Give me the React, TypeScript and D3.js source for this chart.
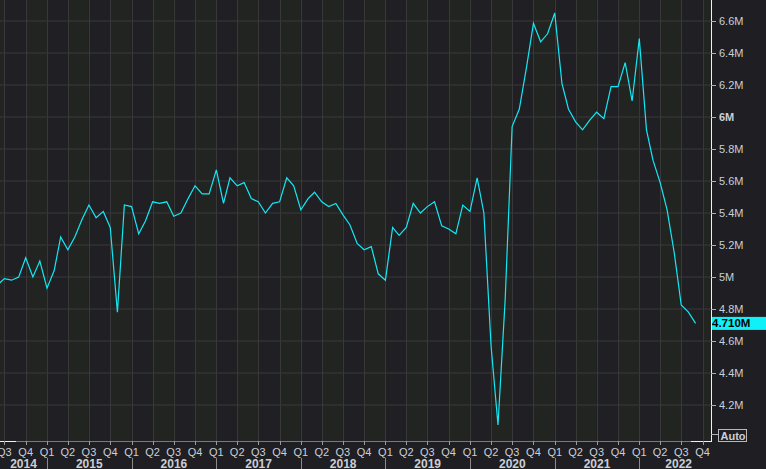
import * as d3 from "d3";

// US existing home sales, SAAR (millions), monthly from Jun 2014
const sales2014 = [4.95, 4.99, 4.98, 5.0, 5.12, 5.0, 5.1];
const sales2015 = [4.93, 5.04, 5.25, 5.17, 5.25, 5.36, 5.45, 5.37, 5.41, 5.31, 4.78, 5.45];
const sales2016 = [5.44, 5.27, 5.35, 5.47, 5.46, 5.47, 5.38, 5.4, 5.49, 5.57, 5.52, 5.52];
const sales2017 = [5.67, 5.46, 5.62, 5.57, 5.59, 5.49, 5.47, 5.4, 5.46, 5.47, 5.62, 5.57];
const sales2018 = [5.42, 5.49, 5.53, 5.47, 5.44, 5.46, 5.39, 5.325, 5.21, 5.17, 5.19, 5.02];
const sales2019 = [4.98, 5.31, 5.26, 5.31, 5.46, 5.4, 5.44, 5.47, 5.32, 5.3, 5.27, 5.45];
const sales2020 = [5.41, 5.62, 5.4, 4.57, 4.075, 4.86, 5.94, 6.05, 6.31, 6.585, 6.47, 6.52];
const sales2021 = [6.65, 6.21, 6.05, 5.97, 5.92, 5.98, 6.03, 5.99, 6.19, 6.19, 6.34, 6.1];
const sales2022 = [6.49, 5.92, 5.73, 5.59, 5.42, 5.15, 4.825, 4.78, 4.71];

const yTicks = [4.2, 4.4, 4.6, 4.8, 5, 5.2, 5.4, 5.6, 5.8, 6, 6.2, 6.4, 6.6];
const years = [2014, 2015, 2016, 2017, 2018, 2019, 2020, 2021, 2022];
const lastLabel = "4.710M";

const W = 766;
const H = 469;
const plotRight = 711;
const plotBottom = 441;

const allSales = [
  ...sales2014,
  ...sales2015,
  ...sales2016,
  ...sales2017,
  ...sales2018,
  ...sales2019,
  ...sales2020,
  ...sales2021,
  ...sales2022,
];
const series = allSales.map((v, i) => ({
  date: d3.timeMonth.offset(new Date(2014, 5, 1), i),
  value: v,
}));

const FONT = "'Liberation Sans', Arial, sans-serif";
const TEXT = "#c9cfd8";

export default function App() {
  const x = d3
    .scaleTime()
    .domain([new Date(2015, 0, 1), new Date(2022, 0, 1)])
    .range([47, 639.3]);
  const y = d3.scaleLinear().domain([4.2, 6.6]).range([405, 21]);

  const line = d3
    .line<{ date: Date; value: number }>()
    .x((d) => x(d.date))
    .y((d) => y(d.value));

  const quarters = d3.timeMonth.every(3)!.range(new Date(2014, 3, 1), new Date(2023, 0, 1));
  const qTicks = quarters.filter((q) => x(q) >= 0 && x(q) <= plotRight);
  const last = series[series.length - 1];

  return (
    <div style={{ position: "fixed", left: 0, top: 0, width: W, height: H }}>
      <svg width={W} height={H} style={{ display: "block", background: "#1f1e22" }}>
        <defs>
          <clipPath id="plot">
            <rect x={0} y={0} width={plotRight} height={plotBottom} />
          </clipPath>
        </defs>
        <g clipPath="url(#plot)">
          {quarters.map((q, i) => {
            const next = d3.timeMonth.offset(q, 3);
            const even = q.getMonth() === 3 || q.getMonth() === 9;
            return (
              <rect
                key={"b" + i}
                x={x(q)}
                y={0}
                width={x(next) - x(q)}
                height={plotBottom}
                fill={even ? "#222421" : "#201f23"}
              />
            );
          })}
          {yTicks.map((t) => (
            <line key={"h" + t} x1={0} x2={plotRight} y1={y(t)} y2={y(t)} stroke="#38383a" strokeWidth={1} />
          ))}
          {qTicks.map((q, i) => (
            <line
              key={"v" + i}
              x1={Math.round(x(q)) + 0.5}
              x2={Math.round(x(q)) + 0.5}
              y1={0}
              y2={plotBottom}
              stroke="#38383a"
              strokeWidth={1}
            />
          ))}
          <path d={line(series) ?? ""} fill="none" stroke="#14e8f5" strokeWidth={1.2} />
        </g>

        {/* bottom axis */}
        <line x1={0} x2={plotRight} y1={plotBottom + 0.5} y2={plotBottom + 0.5} stroke="#7a7a7c" />
        <line x1={0} x2={16} y1={plotBottom + 0.5} y2={plotBottom + 0.5} stroke="#f0f0f0" />
        <line x1={691} x2={plotRight} y1={plotBottom + 0.5} y2={plotBottom + 0.5} stroke="#f0f0f0" />
        {qTicks.map((q, i) => (
          <g key={"q" + i}>
            <line
              x1={Math.round(x(q)) + 0.5}
              x2={Math.round(x(q)) + 0.5}
              y1={plotBottom}
              y2={plotBottom + 4}
              stroke="#9a9a9c"
            />
            <text
              x={x(q)}
              y={455.5}
              textAnchor="middle"
              fontFamily={FONT}
              fontSize={11}
              fill={TEXT}
            >
              {"Q" + (Math.floor(q.getMonth() / 3) + 1)}
            </text>
          </g>
        ))}
        {years.map((yr) => {
          const x0 = Math.max(x(new Date(yr, 0, 1)), 0);
          const x1 = Math.min(x(new Date(yr + 1, 0, 1)), 718);
          const bx = x(new Date(yr, 0, 1));
          return (
            <g key={"y" + yr}>
              {bx > 0 && (
                <line x1={Math.round(bx) + 0.5} x2={Math.round(bx) + 0.5} y1={458} y2={H} stroke="#8a8a8c" />
              )}
              <text
                x={(x0 + x1) / 2}
                y={467.5}
                textAnchor="middle"
                fontFamily={FONT}
                fontSize={12}
                fontWeight="bold"
                fill={TEXT}
              >
                {yr}
              </text>
            </g>
          );
        })}

        {/* right axis */}
        <line x1={plotRight + 0.5} x2={plotRight + 0.5} y1={0} y2={plotBottom + 1} stroke="#f0f0f0" />
        {yTicks.map((t) => (
          <g key={"yt" + t}>
            <line x1={plotRight} x2={plotRight + 5} y1={Math.round(y(t)) + 0.5} y2={Math.round(y(t)) + 0.5} stroke="#b0b0b2" />
            <text
              x={719}
              y={y(t) + 4}
              fontFamily={FONT}
              fontSize={11}
              fontWeight={t === 6 ? "bold" : "normal"}
              fill={TEXT}
            >
              {+t.toFixed(1) + "M"}
            </text>
          </g>
        ))}
        <rect x={plotRight + 1} y={y(last.value) - 6.5} width={W - plotRight - 1} height={13} fill="#10f0f8" />
        <text
          x={plotRight + 1}
          y={y(last.value) + 4}
          fontFamily={FONT}
          fontSize={11.5}
          fontWeight="bold"
          fill="#000"
        >
          {lastLabel}
        </text>

        {/* Auto button */}
        <line x1={plotRight} x2={718} y1={434.5} y2={434.5} stroke="#b0b0b2" />
        <rect x={718.5} y={429.5} width={28} height={12} fill="none" stroke="#b8b8bc" />
        <text x={720.5} y={439.5} fontFamily={FONT} fontSize={11} fontWeight="bold" fill={TEXT}>
          Auto
        </text>
      </svg>
    </div>
  );
}
